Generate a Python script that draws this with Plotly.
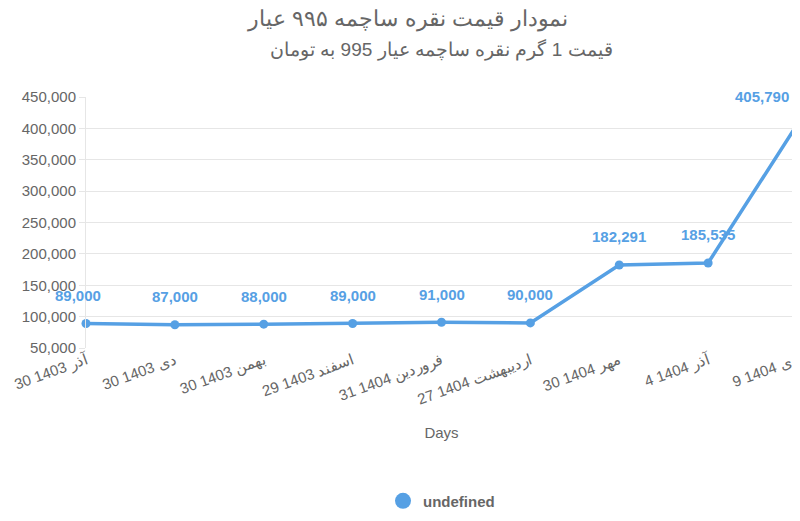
import plotly.graph_objects as go

dates = ["30 آذر 1403", "30 دی 1403", "30 بهمن 1403", "29 اسفند 1403", "31 فروردین 1404",
         "27 اردیبهشت 1404", "30 مهر 1404", "4 آذر 1404", "9 دی 1404"]
prices = [89000, 87000, 88000, 89000, 91000, 90000, 182291, 185535, 405790]
labels = [f"{v:,}" for v in prices]

blue = "#56a0e4"
fig = go.Figure()
fig.add_trace(go.Scatter(
    x=list(range(len(dates))), y=prices, mode="lines+markers",
    line=dict(color=blue, width=3.5), marker=dict(color=blue, size=9),
    showlegend=False, cliponaxis=False,
))
fig.add_trace(go.Scatter(x=[None], y=[None], mode="markers", name="undefined",
                         marker=dict(color=blue, size=22)))
for i, (v, t) in enumerate(zip(prices, labels)):
    xa = "center"
    xs = 0
    if i == 0:
        xs = -8
    if i == len(prices) - 1:
        xs = -35
    fig.add_annotation(x=i, y=v, text=f"<b>{t}</b>", showarrow=False, yshift=28,
                       xshift=xs, xanchor=xa,
                       font=dict(color=blue, size=15, family="Liberation Sans"))

fig.add_annotation(xref="paper", yref="paper", x=0.5, y=1, yshift=48, yanchor="middle",
                   text="قیمت 1 گرم نقره ساچمه عیار 995 به تومان", showarrow=False,
                   font=dict(size=19, color="#666"))

fig.update_layout(
    width=800, height=521, plot_bgcolor="white", paper_bgcolor="white",
    margin=dict(l=78, r=11, t=89, b=139),
    font=dict(family="Liberation Sans", color="#666"),
    title=dict(text="نمودار قیمت نقره ساچمه ۹۹۵ عیار",
               x=0.5, xanchor="center", y=0.98, yanchor="middle",
               font=dict(size=22, color="#666")),
    legend=dict(orientation="h", x=0.5, xanchor="center", y=-0.61, yanchor="middle",
                font=dict(size=15, color="#666", weight="bold"), itemsizing="trace"),
    showlegend=True,
)
fig.update_xaxes(tickvals=list(range(len(dates))), ticktext=dates, range=[0, 8],
                 tickangle=-20, showgrid=False, showline=False, automargin=False,
                 tickfont=dict(size=15, color="#666"),
                 title=dict(text="Days", font=dict(size=15, color="#666"), standoff=20))
fig.update_yaxes(range=[50000, 450000], dtick=50000, tickformat=",", automargin=False,
                 gridcolor="#e6e6e6", showline=True, linecolor="#e6e6e6",
                 zeroline=False, tickfont=dict(size=15, color="#666"), ticks="outside",
                 ticklen=6, tickcolor="#e6e6e6")
fig.write_html("out.html")
